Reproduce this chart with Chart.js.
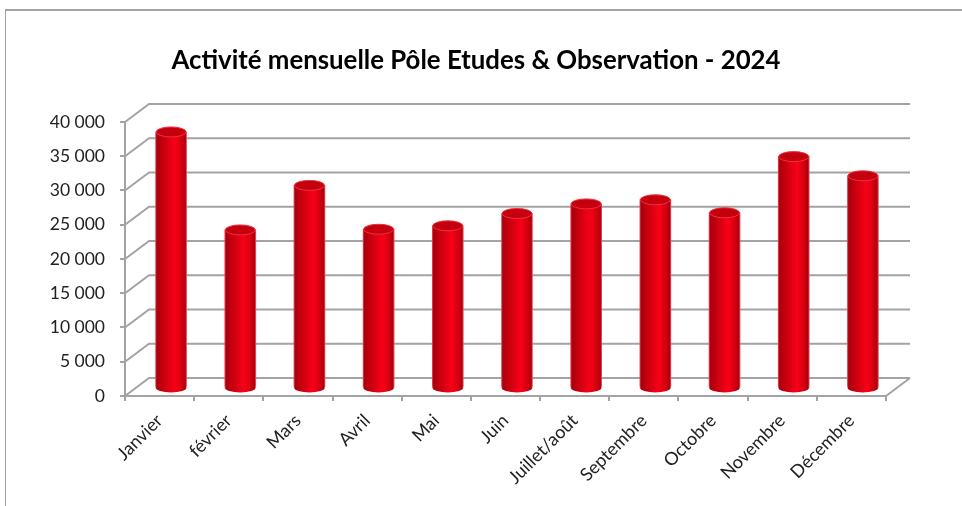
<!DOCTYPE html>
<html>
<head>
    <title>Activité mensuelle</title>
    <meta charset="utf-8">
    <style>
        body {
            margin: 0;
            background-color: #fff;
        }
        #frame {
            position: absolute;
            left: 5px;
            top: 9px;
            right: 0;
            bottom: 0;
            border-top: 2px solid #a3a3a3;
            border-left: 1px solid #a3a3a3;
        }
        #activity-chart {
            position: absolute;
            left: 0;
            top: 0;
        }
    </style>
    <script src="https://cdn.jsdelivr.net/npm/chart.js"></script>
</head>
<body>
    <div id="frame"></div>
    <canvas id="activity-chart" width="952" height="506"></canvas>

    <script>
        const titleText = 'Activité mensuelle Pôle Etudes & Observation - 2024';
        const months = ['Janvier', 'février', 'Mars', 'Avril', 'Mai', 'Juin', 'Juillet/août',
            'Septembre', 'Octobre', 'Novembre', 'Décembre'];
        const activity = [37300, 23000, 29500, 23100, 23600, 25400, 26800, 27400, 25500, 33700, 30900];
        const yTicks = ['0', '5 000', '10 000', '15 000', '20 000', '25 000', '30 000', '35 000', '40 000'];

        const depthX = 24, depthY = 18;
        const gridColor = '#a3a3a3';

        function cylinderFill(ctx, x, w) {
            // scales are not laid out yet on the first resolve
            if (!Number.isFinite(x)) return '#e00010';
            const g = ctx.createLinearGradient(x - w / 2, 0, x + w / 2, 0);
            g.addColorStop(0, '#f0404c');
            g.addColorStop(0.04, '#a8000e');
            g.addColorStop(0.25, '#c8000f');
            g.addColorStop(0.62, '#f80018');
            g.addColorStop(0.85, '#d0000f');
            g.addColorStop(0.96, '#a8000e');
            g.addColorStop(1, '#f0505c');
            return g;
        }

        // back wall, floor and the shift of the bars to the middle of the depth
        const walls = {
            id: 'walls',
            afterLayout(chart) {
                // title is centred on the page, not on the plot
                chart.titleBlock.left = 66;
            },
            beforeDatasetsDraw(chart) {
                const ctx = chart.ctx, y = chart.scales.y, a = chart.chartArea;
                ctx.save();
                ctx.strokeStyle = gridColor;
                ctx.lineWidth = 2;
                y.ticks.forEach(t => {
                    const py = y.getPixelForValue(t.value);
                    ctx.beginPath();
                    ctx.moveTo(a.left, py);
                    ctx.lineTo(a.left + depthX, py - depthY);
                    ctx.lineTo(a.right + depthX, py - depthY);
                    ctx.stroke();
                });
                ctx.beginPath();
                ctx.moveTo(a.right, a.bottom);
                ctx.lineTo(a.right + depthX, a.bottom - depthY);
                ctx.stroke();
                ctx.restore();

                ctx.save();
                ctx.translate(11.5, -8.5);
                chart.getDatasetMeta(0).data.forEach(bar => {
                    ctx.fillStyle = cylinderFill(ctx, bar.x, bar.width);
                    ctx.beginPath();
                    ctx.ellipse(bar.x, a.bottom, bar.width / 2, 5, 0, 0, Math.PI * 2);
                    ctx.fill();
                });
            },
            afterDatasetsDraw(chart) {
                const ctx = chart.ctx;
                chart.getDatasetMeta(0).data.forEach(bar => {
                    ctx.fillStyle = '#c4000f';
                    ctx.strokeStyle = '#ee3040';
                    ctx.lineWidth = 1;
                    ctx.beginPath();
                    ctx.ellipse(bar.x, bar.y, bar.width / 2 - 0.5, 5, 0, 0, Math.PI * 2);
                    ctx.fill();
                    ctx.stroke();
                });
                ctx.restore();
            }
        };

        new Chart(document.getElementById('activity-chart'), {
            type: 'bar',
            data: {
                labels: months,
                datasets: [{
                    data: activity,
                    clip: false,
                    barThickness: 31,
                    backgroundColor: c => cylinderFill(c.chart.ctx, c.chart.scales.x.getPixelForValue(c.dataIndex), 31)
                }]
            },
            plugins: [walls],
            options: {
                responsive: false,
                animation: false,
                layout: { padding: { top: 0, right: 66, bottom: 0, left: 0 } },
                plugins: {
                    legend: { display: false },
                    tooltip: { enabled: false },
                    title: {
                        display: true,
                        text: titleText,
                        color: '#000',
                        font: { family: 'Lato', size: 25.8, weight: 'bold' },
                        padding: { top: 45, bottom: 46 }
                    }
                },
                scales: {
                    x: {
                        afterFit: s => { s.height = 110; },
                        border: { color: gridColor, width: 2 },
                        grid: { drawOnChartArea: false, color: gridColor, lineWidth: 2, tickLength: 5 },
                        ticks: {
                            autoSkip: false,
                            minRotation: 45,
                            maxRotation: 45,
                            color: '#222',
                            padding: 9,
                            font: { family: 'Lato', size: 18 }
                        }
                    },
                    y: {
                        min: 0,
                        max: 40000,
                        afterFit: s => { s.width = 125; },
                        border: { color: gridColor, width: 2 },
                        grid: { drawOnChartArea: false, color: gridColor, lineWidth: 2, tickLength: 5 },
                        ticks: {
                            stepSize: 5000,
                            color: '#222',
                            padding: 15,
                            font: { family: 'Lato', size: 17.5 },
                            callback: (v, i) => yTicks[i]
                        }
                    }
                }
            }
        });
    </script>
</body>
</html>
